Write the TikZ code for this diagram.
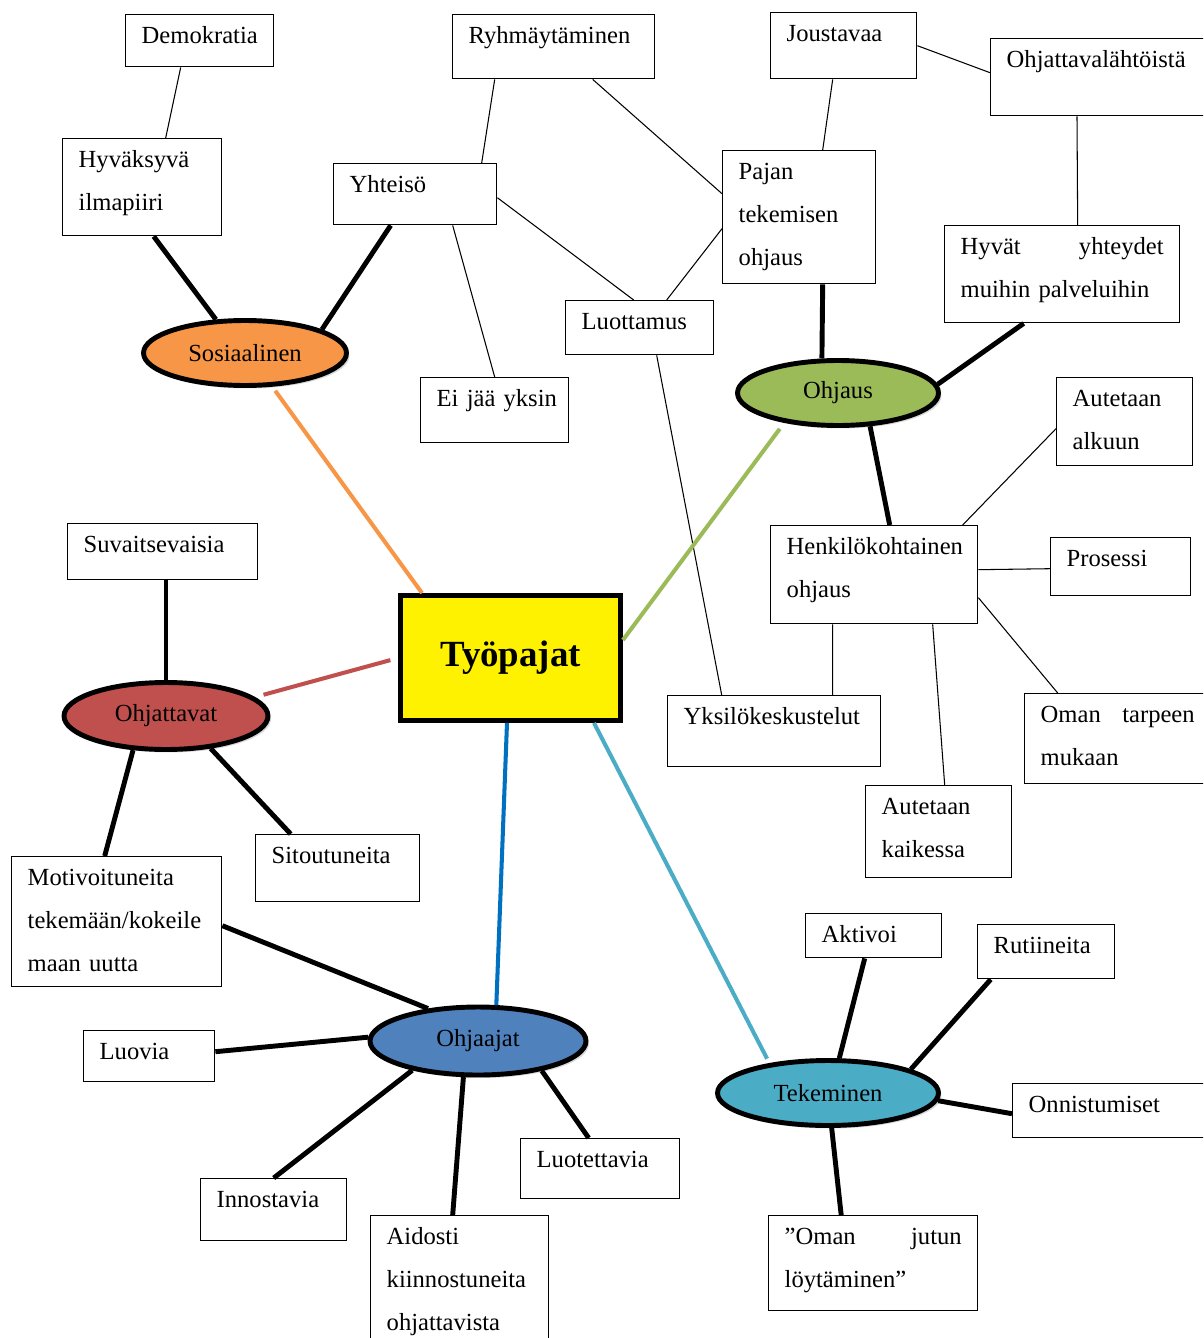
\documentclass[tikz,border=0pt]{standalone}
\usepackage{fontspec}
\setmainfont{Liberation Serif}
\usetikzlibrary{shapes.geometric,shadows}

\definecolor{sosorange}{HTML}{F79646}
\definecolor{ohjgreen}{HTML}{9BBB59}
\definecolor{tavred}{HTML}{C0504D}
\definecolor{jaablue}{HTML}{4F81BD}
\definecolor{tekteal}{HTML}{4BACC6}
\definecolor{linkblue}{HTML}{0070C0}

\tikzstyle{box}=[draw, line width=0.8pt, anchor=north west, align=left, inner xsep=0.32cm, inner ysep=0.24cm, text height=0.34cm, font=\fontsize{14}{24.4}\selectfont]
\tikzstyle{topic}=[ellipse, draw, line width=2.8pt, inner sep=0pt, font=\fontsize{14}{16}\selectfont, drop shadow={shadow xshift=0.06cm, shadow yshift=-0.06cm, opacity=0.3}]
\tikzstyle{spoke}=[line width=2.8pt]
\tikzstyle{twig}=[line width=0.6pt]
\tikzstyle{branch}=[line width=2.3pt]

\begin{document}
\begin{tikzpicture}[x=0.02cm, y=-0.02cm]
  \useasboundingbox (0,0) rectangle (1203,1338);
  \clip (0,0) rectangle (1203,1338);

  % boxes
  \node[box, text width=2.32cm, text depth=0.22cm] (demo) at (125,14) {Demokratia};
  \node[box, text width=3.4cm, text depth=0.46cm] (ryhma) at (452,14) {Ryhmäytäminen};
  \node[box, text width=2.28cm, text depth=0.5cm] (jousta) at (770,12) {Joustavaa};
  \node[box, text width=4.56cm, text depth=0.72cm] (ohjla) at (990,38) {Ohjattavalähtöistä};
  \node[box, text width=2.54cm, text depth=1.12cm] (hyvak) at (62,138) {Hyväksyvä\\ilmapiiri};
  \node[box, text width=2.62cm, text depth=0.4cm] (yhteis) at (333,163) {Yhteisö};
  \node[box, text width=2.42cm, text depth=1.84cm] (pajan) at (722,150) {Pajan\\tekemisen\\ohjaus};
  \node[box, text width=4.06cm, text depth=1.12cm] (hyvat) at (944,225) {Hyvät\hfill yhteydet\\muihin palveluihin};
  \node[box, text width=2.32cm, text depth=0.26cm] (luott) at (565,300) {Luottamus};
  \node[box, text width=2.32cm, text depth=0.48cm] (eijaa) at (420,377) {Ei~jää~yksin};
  \node[box, text width=2.08cm, text depth=0.94cm] (alkuun) at (1056,377) {Autetaan\\alkuun};
  \node[box, text width=3.16cm, text depth=0.3cm] (suvait) at (67,523) {Suvaitsevaisia};
  \node[box, text width=3.5cm, text depth=1.14cm] (henk) at (770,525) {Henkilökohtainen\\ohjaus};
  \node[box, text width=2.16cm, text depth=0.34cm] (prosessi) at (1050,537) {Prosessi};
  \node[box, text width=3.62cm, text depth=0.6cm] (yksilo) at (667,695) {Yksilökeskustelut};
  \node[box, text width=3.08cm, text depth=0.98cm] (tarpeen) at (1024,693) {Oman\hfill tarpeen\\mukaan};
  \node[box, text width=2.28cm, text depth=1.02cm] (kaikessa) at (865,785) {Autetaan\\kaikessa};
  \node[box, text width=2.64cm, text depth=0.52cm] (sitout) at (255,834) {Sitoutuneita};
  \node[box, text width=3.56cm, text depth=1.78cm] (motiv) at (11,856) {Motivoituneita\\tekemään/kokeile\\maan uutta};
  \node[box, text width=2.08cm, text depth=0.06cm] (aktiv) at (805,913) {Aktivoi};
  \node[box, text width=2.1cm, text depth=0.26cm] (rutiin) at (977,924) {Rutiineita};
  \node[box, text width=1.98cm, text depth=0.2cm] (luovia) at (83,1030) {Luovia};
  \node[box, text width=4.6cm, text depth=0.26cm] (onnist) at (1012,1083) {Onnistumiset};
  \node[box, text width=2.54cm, text depth=0.38cm] (luotet) at (520,1138) {Luotettavia};
  \node[box, text width=2.28cm, text depth=0.42cm] (innost) at (200,1178) {Innostavia};
  \node[box, text width=2.92cm, text depth=2.08cm] (aidosti) at (370,1215) {Aidosti\\kiinnostuneita\\ohjattavista};
  \node[box, text width=3.54cm, text depth=1.08cm] (omajuttu) at (768,1215) {”Oman\hfill jutun\\löytäminen”};

  % themes
  \node[topic, fill=sosorange, minimum width=4.06cm, minimum height=1.3cm] (sos) at (245,353) {Sosiaalinen};
  \node[topic, fill=ohjgreen, minimum width=4.02cm, minimum height=1.3cm] (ohjaus) at (838,393) {Ohjaus};
  \node[topic, fill=tavred, minimum width=4.08cm, minimum height=1.34cm] (ohjtav) at (166,716) {Ohjattavat};
  \node[topic, fill=jaablue, minimum width=4.32cm, minimum height=1.36cm] (ohjaaj) at (478,1041) {Ohjaajat};
  \node[topic, fill=tekteal, minimum width=4.42cm, minimum height=1.3cm] (teke) at (828,1093) {Tekeminen};

  \node[draw, line width=2.8pt, fill=yellow, minimum width=4.4cm, minimum height=2.5cm, font=\bfseries\fontsize{21}{24}\selectfont] (tyo) at (510.5,658) {Työpajat};

  % theme to box
  \draw[spoke] (sos.131) -- ([xshift=0.23cm]hyvak.south);
  \draw[spoke] (sos.17) -- ([xshift=-0.49cm]yhteis.south);
  \draw[spoke] (ohjaus.115) -- ([xshift=0.47cm]pajan.south);
  \draw[spoke] (ohjaus.5) -- ([xshift=-0.77cm]hyvat.south);
  \draw[spoke] (ohjaus.-46) -- ([xshift=0.31cm]henk.north);
  \draw[spoke] (ohjtav.north) -- (ohjtav.north |- suvait.south);
  \draw[spoke] (ohjtav.-134) -- ([xshift=-0.24cm]motiv.north);
  \draw[spoke] (ohjtav.-36) -- ([xshift=-0.94cm]sitout.north);
  \draw[spoke] (ohjaaj.147) -- ([yshift=-0.08cm]motiv.east);
  \draw[spoke] (ohjaaj.178) -- ([yshift=0.09cm]luovia.east);
  \draw[spoke] (ohjaaj.-156) -- (innost.north);
  \draw[spoke] (ohjaaj.-112) -- ([xshift=-0.14cm]aidosti.north);
  \draw[spoke] (ohjaaj.-25) -- ([xshift=-0.23cm]luotet.north);
  \draw[spoke] (teke.72) -- ([xshift=-0.18cm]aktiv.south);
  \draw[spoke] (teke.16) -- ([xshift=-1.11cm]rutiin.south);
  \draw[spoke] (teke.-4) -- ([yshift=-0.06cm]onnist.west);
  \draw[spoke] (teke.-84) -- ([xshift=-0.64cm]omajuttu.north);

  % box to box
  \draw[twig] ([xshift=-0.38cm]demo.south) -- ([xshift=0.47cm]hyvak.north);
  \draw[twig] ([xshift=-1.18cm]ryhma.south) -- ([xshift=1.33cm]yhteis.north);
  \draw[twig] ([xshift=0.78cm]ryhma.south) -- ([yshift=0.47cm]pajan.west);
  \draw[twig] ([xshift=-0.22cm]jousta.south) -- ([xshift=0.47cm]pajan.north);
  \draw[twig] (jousta.east) -- ([yshift=0.09cm]ohjla.west);
  \draw[twig] ([xshift=1.74cm]ohjla.south west) -- ([xshift=0.31cm]hyvat.north);
  \draw[twig] ([yshift=-0.07cm]yhteis.east) -- ([xshift=-0.12cm]luott.north);
  \draw[twig] ([xshift=0.75cm]yhteis.south) -- (eijaa.north);
  \draw[twig] ([yshift=-0.23cm]pajan.west) -- ([xshift=0.54cm]luott.north);
  \draw[twig] ([xshift=0.34cm]luott.south) -- ([xshift=-1.05cm]yksilo.north);
  \draw[twig] ([xshift=1.77cm]henk.north) -- ([yshift=-0.14cm]alkuun.west);
  \draw[twig] ([yshift=0.1cm]henk.east) -- ([yshift=-0.04cm]prosessi.west);
  \draw[twig] ([yshift=-0.46cm]henk.east) -- ([xshift=-1.2cm]tarpeen.north);
  \draw[twig] ([xshift=-0.83cm]henk.south) -- ([xshift=1.17cm]yksilo.north);
  \draw[twig] ([xshift=1.17cm]henk.south) -- ([xshift=0.12cm]kaikessa.north);

  % centre to themes
  \draw[branch, sosorange, shorten >=0.1cm] ([xshift=-1.77cm]tyo.north) -- (sos.-51);
  \draw[branch, ohjgreen, shorten >=0.15cm] ([yshift=0.36cm]tyo.east) -- (ohjaus.-151);
  \draw[branch, tavred, shorten <=0.16cm, shorten >=0.18cm] (tyo.west) -- (ohjtav.12);
  \draw[branch, linkblue] ([xshift=-0.07cm]tyo.south) -- (ohjaaj.63);
  \draw[branch, tekteal, shorten >=0.1cm] ([xshift=1.67cm]tyo.south) -- (teke.153);
\end{tikzpicture}
\end{document}
